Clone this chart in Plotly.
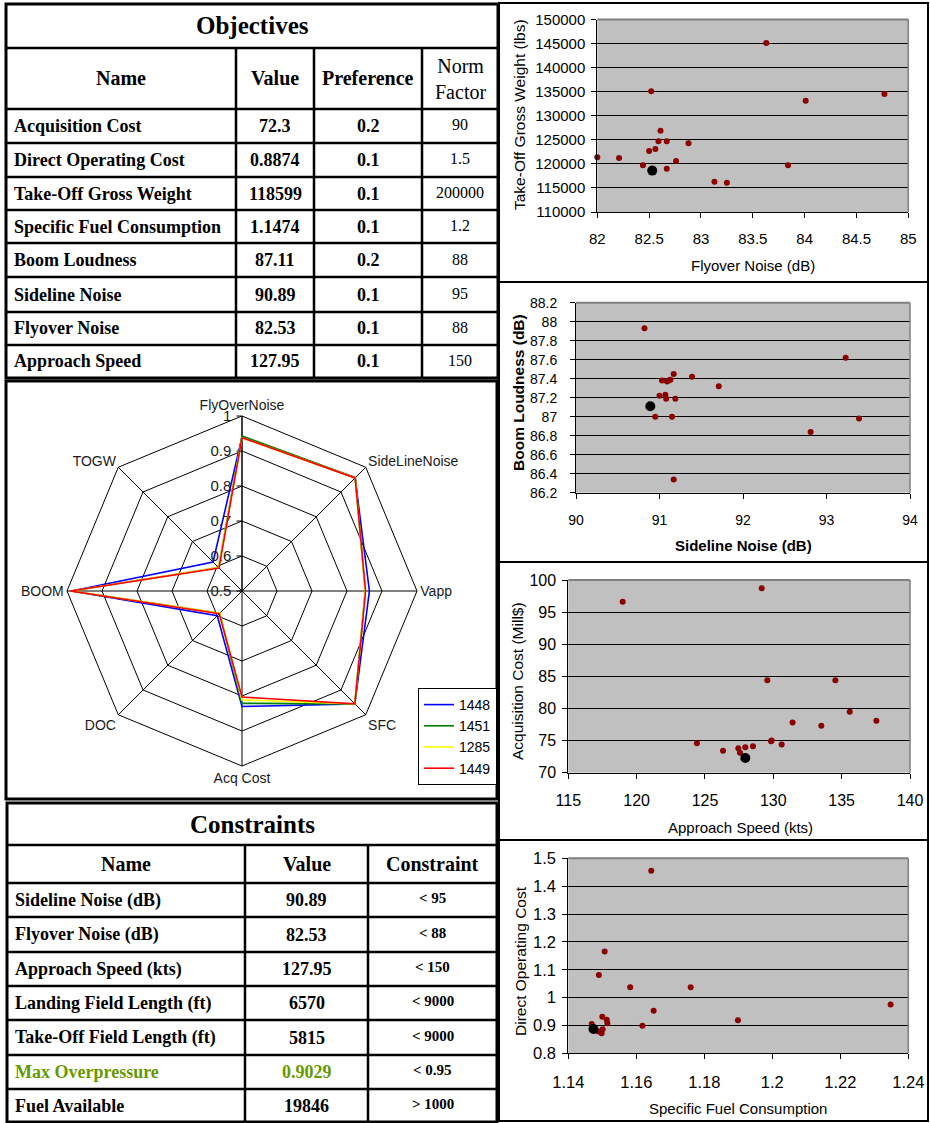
import plotly.graph_objects as go

W, H = 930, 1123
SERIF = "Liberation Serif, Times New Roman, serif"
SANS = "Liberation Sans, Arial, sans-serif"

# ---------------- Objectives table ----------------
obj_title = "Objectives"
obj_headers = ["Name", "Value", "Preference", "Norm<br>Factor"]
obj_names = ["Acquisition Cost", "Direct Operating Cost", "Take-Off Gross Weight",
             "Specific Fuel Consumption", "Boom Loudness", "Sideline Noise",
             "Flyover Noise", "Approach Speed"]
obj_values = ["72.3", "0.8874", "118599", "1.1474", "87.11", "90.89", "82.53", "127.95"]
obj_prefs = ["0.2", "0.1", "0.1", "0.1", "0.2", "0.1", "0.1", "0.1"]
obj_norms = ["90", "1.5", "200000", "1.2", "88", "95", "88", "150"]

# ---------------- Constraints table ----------------
con_title = "Constraints"
con_headers = ["Name", "Value", "Constraint"]
con_names = ["Sideline Noise (dB)", "Flyover Noise (dB)", "Approach Speed (kts)",
             "Landing Field Length (ft)", "Take-Off Field Length (ft)",
             "Max Overpressure", "Fuel Available"]
con_values = ["90.89", "82.53", "127.95", "6570", "5815", "0.9029", "19846"]
con_limits = ["< 95", "< 88", "< 150", "< 9000", "< 9000", "< 0.95", "> 1000"]
con_highlight = "Max Overpressure"

# ---------------- Radar ----------------
radar_axes = ["FlyOverNoise", "SideLineNoise", "Vapp", "SFC", "Acq Cost", "DOC", "BOOM", "TOGW"]
radar_names = ["1448", "1451", "1285", "1449"]
radar_colors = ["#0000FF", "#008000", "#FFFF00", "#FF0000"]
r_1448 = [0.940, 0.957, 0.864, 0.956, 0.830, 0.600, 0.987, 0.617]
r_1451 = [0.943, 0.958, 0.852, 0.956, 0.821, 0.590, 0.988, 0.595]
r_1285 = [0.938, 0.957, 0.852, 0.956, 0.811, 0.590, 0.988, 0.595]
r_1449 = [0.938, 0.957, 0.853, 0.956, 0.803, 0.592, 0.990, 0.593]
radar_values = [r_1448, r_1451, r_1285, r_1449]
radar_ticks = [0.5, 0.6, 0.7, 0.8, 0.9, 1.0]
radar_ticktext = ["0.5", "0.6", "0.7", "0.8", "0.9", "1"]

# ---------------- Scatter panels ----------------
flyover_noise = [82.0, 82.21, 82.44, 82.50, 82.52, 82.56, 82.59, 82.61, 82.67, 82.67,
                 82.76, 82.88, 83.13, 83.25, 83.63, 83.84, 84.01, 84.77]
togw = [121400, 121200, 119700, 122700, 135100, 123100, 124700, 126900, 124700, 119000,
        120600, 124300, 116300, 116100, 145100, 119700, 133100, 134500]

sideline_noise = [90.82, 90.95, 91.00, 91.03, 91.07, 91.08, 91.09, 91.11, 91.13, 91.15,
                  91.17, 91.19, 91.17, 91.39, 91.71, 92.81, 93.23, 93.39]
boom_loudness = [87.93, 87.00, 87.22, 87.38, 87.23, 87.19, 87.37, 87.38, 87.39, 87.00,
                 87.45, 87.19, 86.34, 87.42, 87.32, 86.84, 87.62, 86.98]

approach_speed = [118.98, 124.41, 126.32, 127.44, 127.56, 127.95, 128.51, 129.15, 129.56,
                  129.83, 129.88, 130.61, 131.41, 133.51, 134.54, 135.59, 137.54]
acq_cost = [96.6, 74.6, 73.4, 73.8, 73.1, 73.95, 74.1, 98.7, 84.4,
            74.9, 75.0, 74.4, 77.8, 77.3, 84.4, 79.5, 78.1]

sfc = [1.1644, 1.1507, 1.1490, 1.1582, 1.1760, 1.2348, 1.1651, 1.1899, 1.1618,
       1.1469, 1.1500, 1.1513, 1.1515, 1.1488, 1.1498, 1.1501]
doc = [1.455, 1.165, 1.081, 1.037, 1.037, 0.975, 0.953, 0.919, 0.899,
       0.905, 0.931, 0.920, 0.908, 0.878, 0.872, 0.886]

cur = {name: float(v) for name, v in zip(obj_names, obj_values)}

# ---------------------------------------------------------------
def PX(x):
    return x / W


def PY(y):
    return 1 - y / H


shapes = []
annotations = []


def hline(x0, x1, y, w=2.5, color="black"):
    shapes.append(dict(type="line", xref="paper", yref="paper", x0=PX(x0), x1=PX(x1),
                       y0=PY(y), y1=PY(y), line=dict(color=color, width=w)))


def vline(x, y0, y1, w=2.5, color="black"):
    shapes.append(dict(type="line", xref="paper", yref="paper", x0=PX(x), x1=PX(x),
                       y0=PY(y0), y1=PY(y1), line=dict(color=color, width=w)))


def rect(x0, y0, x1, y1, w=3, color="black"):
    shapes.append(dict(type="rect", xref="paper", yref="paper", x0=PX(x0), x1=PX(x1),
                       y0=PY(y1), y1=PY(y0), line=dict(color=color, width=w),
                       fillcolor="rgba(0,0,0,0)"))


def txt(x, y, s, size, bold=True, color="black", xanchor="center", family=SERIF, angle=0):
    annotations.append(dict(x=PX(x), y=PY(y), xref="paper", yref="paper",
                            text=f"<b>{s}</b>" if bold else s, showarrow=False,
                            xanchor=xanchor, yanchor="middle", textangle=angle,
                            font=dict(family=family, size=size, color=color)))


# ---- Objectives table geometry ----
oc = [6, 236, 314, 422, 498]
orow = [4, 48, 109, 143, 177, 210, 243, 277, 312, 345, 378]
rect(oc[0], orow[0], oc[-1], orow[-1], w=3)
for yy in orow[1:-1]:
    hline(oc[0], oc[-1], yy)
for xx in oc[1:-1]:
    vline(xx, orow[1], orow[-1])
txt((oc[0] + oc[-1]) / 2, (orow[0] + orow[1]) / 2, obj_title, 25)
for i, hd in enumerate(obj_headers):
    xc = (oc[i] + oc[i + 1]) / 2
    yc = (orow[1] + orow[2]) / 2
    if i == 3:
        txt(xc, yc + 1, hd, 20, bold=False)
    else:
        txt(xc, yc, hd, 20)
for r in range(len(obj_names)):
    yc = (orow[r + 2] + orow[r + 3]) / 2
    txt(oc[0] + 6, yc, obj_names[r], 18, xanchor="left")
    txt((oc[1] + oc[2]) / 2, yc, obj_values[r], 18)
    txt((oc[2] + oc[3]) / 2, yc, obj_prefs[r], 18)
    txt((oc[3] + oc[4]) / 2, yc - 1, obj_norms[r], 16, bold=False)

# ---- Radar frame ----
rect(6, 381, 497, 799, w=3)

# ---- Constraints table geometry ----
cc = [7, 245, 368, 497]
crow = [803, 845, 883, 917, 952, 986, 1020, 1055, 1089, 1122]
rect(cc[0], crow[0], cc[-1], crow[-1], w=3)
for yy in crow[1:-1]:
    hline(cc[0], cc[-1], yy)
for xx in cc[1:-1]:
    vline(xx, crow[1], crow[-1])
txt((cc[0] + cc[-1]) / 2, (crow[0] + crow[1]) / 2, con_title, 25)
for i, hd in enumerate(con_headers):
    txt((cc[i] + cc[i + 1]) / 2, (crow[1] + crow[2]) / 2, hd, 20)
GREEN = "rgb(102,153,0)"
for r in range(len(con_names)):
    yc = (crow[r + 2] + crow[r + 3]) / 2
    col = GREEN if con_names[r] == con_highlight else "black"
    txt(cc[0] + 6, yc, con_names[r], 18, xanchor="left", color=col)
    txt((cc[1] + cc[2]) / 2, yc, con_values[r], 18, color=col)
    txt((cc[2] + cc[3]) / 2, yc - 2, con_limits[r], 15)

# ---- Right column panel frames ----
rect(499, 3, 928, 1121, w=2)
hline(499, 928, 282, w=2)
hline(499, 928, 562, w=2)
hline(499, 928, 840, w=2)

fig = go.Figure()

# ---- Radar traces ----
for name, col, vals in zip(radar_names, radar_colors, radar_values):
    fig.add_trace(go.Scatterpolar(
        r=vals + vals[:1], theta=radar_axes + radar_axes[:1], mode="lines",
        name=name, line=dict(color=col, width=1.6), subplot="polar"))

cx, cy, rad = 242, 591, 175
fig.update_layout(polar=dict(
    domain=dict(x=[PX(cx - rad), PX(cx + rad)], y=[PY(cy + rad), PY(cy - rad)]),
    bgcolor="white", gridshape="linear",
    angularaxis=dict(direction="clockwise", rotation=90, showline=True, linecolor="black",
                     linewidth=1, gridcolor="black", gridwidth=1, ticks="",
                     layer="below traces",
                     tickfont=dict(family=SANS, size=14, color="#1a1a1a")),
    radialaxis=dict(range=[0.5, 1.0], tickvals=radar_ticks, ticktext=radar_ticktext,
                    angle=90, tickangle=90, side="counterclockwise", showline=True,
                    linecolor="black", linewidth=1, gridcolor="black", gridwidth=1,
                    ticks="outside", ticklen=5, tickcolor="black", layer="below traces",
                    tickfont=dict(family=SANS, size=15, color="#1a1a1a")),
))

# ---- Scatter panels ----
DARKRED = "#8B0000"
panels = [
    dict(x=flyover_noise, y=togw, cx=cur["Flyover Noise"], cy=cur["Take-Off Gross Weight"],
         xr=[82, 85], xt=[82, 82.5, 83, 83.5, 84, 84.5, 85],
         yr=[110000, 150000], yt=list(range(110000, 150001, 5000)),
         px=[597.3, 908.3], py=[19.5, 212], yfmt="d", fs=15, ysd=3, xsd=8,
         xtitle="Flyover Noise (dB)", ytitle="Take-Off Gross Weight (lbs)",
         xtpos=(753, 265), ytpos=(520, 115), bold=False),
    dict(x=sideline_noise, y=boom_loudness, cx=cur["Sideline Noise"], cy=cur["Boom Loudness"],
         xr=[90, 94], xt=[90, 91, 92, 93, 94],
         yr=[86.2, 88.2], yt=[86.2, 86.4, 86.6, 86.8, 87, 87.2, 87.4, 87.6, 87.8, 88, 88.2],
         px=[576, 910], py=[302.7, 492.7], yfmt="", fs=14, ysd=10, xsd=9,
         xtitle="Sideline Noise (dB)", ytitle="Boom Loudness (dB)",
         xtpos=(743, 545), ytpos=(519, 393), bold=True),
    dict(x=approach_speed, y=acq_cost, cx=cur["Approach Speed"], cy=cur["Acquisition Cost"],
         xr=[115, 140], xt=[115, 120, 125, 130, 135, 140],
         yr=[70, 100], yt=[70, 75, 80, 85, 90, 95, 100],
         px=[568.3, 910], py=[580, 772.7], yfmt="", fs=16, ysd=3, xsd=8,
         xtitle="Approach Speed (kts)", ytitle="Acquisition Cost (Mill$)",
         xtpos=(740, 827), ytpos=(517, 681), bold=False),
    dict(x=sfc, y=doc, cx=cur["Specific Fuel Consumption"], cy=cur["Direct Operating Cost"],
         xr=[1.14, 1.24], xt=[1.14, 1.16, 1.18, 1.2, 1.22, 1.24],
         yr=[0.8, 1.5], yt=[0.8, 0.9, 1, 1.1, 1.2, 1.3, 1.4, 1.5],
         px=[568.3, 908.3], py=[858.3, 1053.3], yfmt="", fs=16.5, ysd=3, xsd=9,
         xtitle="Specific Fuel Consumption", ytitle="Direct Operating Cost",
         xtpos=(738, 1108), ytpos=(520, 961), bold=False),
]

for i, p in enumerate(panels, start=1):
    xa = "x" if i == 1 else f"x{i}"
    ya = "y" if i == 1 else f"y{i}"
    fig.add_trace(go.Scatter(x=p["x"], y=p["y"], mode="markers", xaxis=xa, yaxis=ya,
                             marker=dict(color=DARKRED, size=6), showlegend=False,
                             cliponaxis=False))
    fig.add_trace(go.Scatter(x=[p["cx"]], y=[p["cy"]], mode="markers", xaxis=xa, yaxis=ya,
                             marker=dict(color="black", size=10), showlegend=False,
                             cliponaxis=False))
    tf = dict(family=SANS, size=p["fs"], color="black")
    xkey = "xaxis" if i == 1 else f"xaxis{i}"
    ykey = "yaxis" if i == 1 else f"yaxis{i}"
    fig.update_layout({
        xkey: dict(domain=[PX(p["px"][0]), PX(p["px"][1])], anchor=ya, range=p["xr"],
                   tickvals=p["xt"], showgrid=False, zeroline=False, showline=True,
                   linecolor="black", linewidth=1, ticks="outside", ticklen=5,
                   tickcolor="black", tickfont=tf, ticklabelstandoff=p["xsd"],
                   automargin=False),
        ykey: dict(domain=[PY(p["py"][1]), PY(p["py"][0])], anchor=xa, range=p["yr"],
                   tickvals=p["yt"], tickformat=p["yfmt"], showgrid=True, gridcolor="black",
                   gridwidth=1, zeroline=False, showline=True, linecolor="black",
                   linewidth=1, ticks="outside", ticklen=5, tickcolor="black",
                   tickfont=tf, ticklabelstandoff=p["ysd"], automargin=False),
    })
    # grey plot-area border on top and right (Excel style)
    shapes.append(dict(type="line", xref=f"{xa} domain", yref=f"{ya} domain",
                       x0=0, x1=1, y0=1, y1=1, line=dict(color="#808080", width=2),
                       layer="above"))
    shapes.append(dict(type="line", xref=f"{xa} domain", yref=f"{ya} domain",
                       x0=1, x1=1, y0=0, y1=1, line=dict(color="#808080", width=1.5),
                       layer="above"))
    txt(p["xtpos"][0], p["xtpos"][1], p["xtitle"], 15, bold=p["bold"], family=SANS)
    txt(p["ytpos"][0], p["ytpos"][1], p["ytitle"], 15.5, bold=p["bold"], family=SANS,
        angle=-90)

fig.update_layout(
    width=W, height=H, margin=dict(l=0, r=0, t=0, b=0, autoexpand=False),
    paper_bgcolor="white", plot_bgcolor="#C0C0C0",
    shapes=shapes, annotations=annotations,
    showlegend=True,
    legend=dict(x=PX(418), y=PY(688), xanchor="left", yanchor="top",
                bordercolor="black", borderwidth=1, bgcolor="white",
                font=dict(family=SANS, size=14, color="black"), itemwidth=30),
)

fig.write_html("out.html", config={"displayModeBar": False},
               post_script="document.body.style.margin='0';document.body.style.padding='0';"
                           "document.body.style.overflow='hidden';")
